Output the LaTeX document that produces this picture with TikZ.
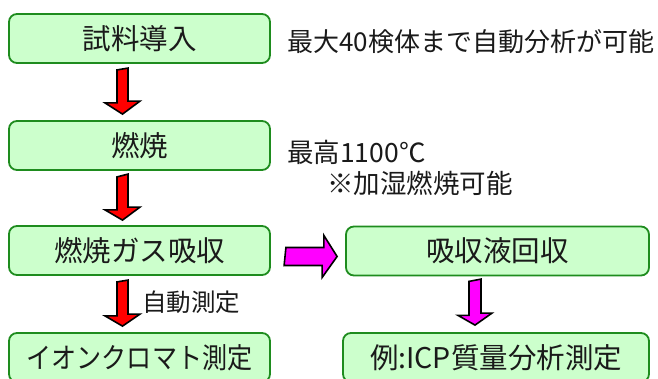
\documentclass[tikz,border=0pt]{standalone}
\usepackage{fontspec}
\setmainfont{Noto Sans CJK JP}
\usetikzlibrary{calc}
\definecolor{boxfill}{HTML}{CCFFCC}
\definecolor{boxline}{HTML}{1E8C1E}
\definecolor{arrred}{HTML}{FF0000}
\definecolor{arrmag}{HTML}{FF00FF}
\definecolor{txt}{HTML}{1A1A1A}
\tikzset{
  procbox/.style={draw=boxline, line width=1.8pt, fill=boxfill, rounded corners=8pt,
    minimum height=49pt, inner sep=0pt, text=txt, font=\fontsize{28.5}{30}\selectfont},
  redarrow/.style={draw=black, line width=1.6pt, fill=arrred, line join=miter},
  magarrow/.style={draw=black, line width=1.6pt, fill=arrmag, line join=miter},
  note/.style={anchor=west, inner sep=0pt, text=txt, font=\fontsize{26.5}{28}\selectfont}
}
\begin{document}
\begin{tikzpicture}[x=1pt,y=-1pt]
\useasboundingbox (0,0) rectangle (658,379);
\clip (0,0) rectangle (658,379);
\node[procbox, minimum width=261pt] (b1) at (139.5,38.5) {試料導入};
\node[procbox, minimum width=261pt] (b2) at (139.5,145.5) {燃焼};
\node[procbox, minimum width=261pt] (b3) at (139.5,250.5) {燃焼ガス吸収};
\node[procbox, minimum width=261pt] (b4) at (139.5,357.5) {\scalebox{0.88}[1]{イオンクロマト測定}};
\node[procbox, minimum width=303pt] (b5) at (497.5,251) {吸収液回収};
\node[procbox, minimum width=306pt] (b6) at (496,357.5) {例:ICP質量分析測定};
\node[note, font=\fontsize{26}{28}\selectfont] (n1) at (287,42) {最大40検体まで自動分析が可能};
\node[note] (n2) at (287,152) {最高1100℃};
\node[note] (n3) at (327,183) {※加湿燃焼可能};
\node[note, font=\fontsize{24.5}{26}\selectfont] (n4) at (142,302) {自動測定};
% red arrows (down)
\coordinate (a1s) at ($(b1.south)+(-17,6)$);
\coordinate (a2s) at ($(b2.south)+(-17,6)$);
\coordinate (a3s) at ($(b3.south)+(-17,6)$);
\draw[redarrow] ($(a1s)+(-5.5,0)$) -- ++(0,33) -- ++(-12,0) -- ($(a1s |- b2.north)+(0,-6)$) -- ++(17.5,-13) -- ++(-12,0) -- ++(0,-33) -- cycle;
\draw[redarrow] ($(a2s)+(-5.5,0)$) -- ++(0,33) -- ++(-12,0) -- ($(a2s |- b3.north)+(0,-5)$) -- ++(17.5,-13) -- ++(-12,0) -- ++(0,-33) -- cycle;
\draw[redarrow] ($(a3s)+(-5.5,0)$) -- ++(0,34) -- ++(-12,0) -- ($(a3s |- b4.north)+(0,-6)$) -- ++(17.5,-12) -- ++(-12,0) -- ++(0,-34) -- cycle;
% magenta right arrow
\coordinate (m1s) at ($(b3.east)+(15,6)$);
\draw[magarrow] ($(m1s)+(0,-9)$) -- ++(38,0) -- ++(0,-12) -- ($(b5.west |- m1s)+(-8,0)$) -- ++(-15,21) -- ++(0,-12) -- ++(-38,0) -- cycle;
% magenta down arrow
\coordinate (m2s) at ($(b5.south)+(-22.5,5)$);
\draw[magarrow] ($(m2s)+(-6,0)$) -- ++(0,34) -- ++(-11,0) -- ($(m2s |- b6.north)+(0,-7)$) -- ++(17,-12) -- ++(-11,0) -- ++(0,-34) -- cycle;
\end{tikzpicture}
\end{document}
